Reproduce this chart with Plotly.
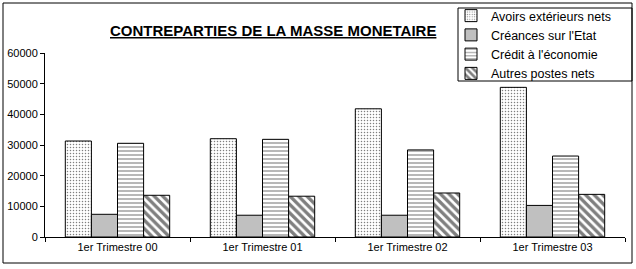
import plotly.graph_objects as go

categories = ["1er Trimestre 00", "1er Trimestre 01", "1er Trimestre 02", "1er Trimestre 03"]
avoirs = [31300, 32050, 41800, 48800]
creances = [7400, 7100, 7100, 10300]
credit = [30550, 31850, 28400, 26400]
autres = [13600, 13300, 14350, 13900]
y_ticks = [0, 10000, 20000, 30000, 40000, 50000, 60000]

L, R, T, B = 45, 11, 53, 32
W, H = 636, 269
pw, ph = W - L - R, H - T - B

def px_x(p):
    return (p - L) / pw

def px_y(p):
    return (H - B - p) / ph

fig = go.Figure()
series = [
    ("Avoirs extérieurs nets", avoirs, dict(shape=".", fgcolor="black", bgcolor="white", size=3, solidity=0.2)),
    ("Créances sur l'Etat", creances, None),
    ("Crédit à l'économie", credit, dict(shape="-", fgcolor="black", bgcolor="white", size=4, solidity=0.28)),
    ("Autres postes nets", autres, dict(shape="\\", fgcolor="black", bgcolor="white", size=6, solidity=0.55)),
]
for name, vals, pat in series:
    marker = dict(line=dict(color="black", width=1))
    if pat is None:
        marker["color"] = "#C0C0C0"
    else:
        marker["color"] = "white"
        marker["pattern"] = pat
    fig.add_trace(go.Bar(name=name, x=categories, y=vals, marker=marker))

fig.update_layout(
    width=W, height=H,
    margin=dict(l=L, r=R, t=T, b=B, autoexpand=False),
    paper_bgcolor="white", plot_bgcolor="white",
    barmode="group", bargap=0.28, bargroupgap=0,
    font=dict(family="Liberation Sans, Arial, sans-serif", size=11, color="black"),
    showlegend=True,
    legend=dict(
        x=px_x(451), y=px_y(1), xanchor="left", yanchor="top",
        borderwidth=0, bgcolor="rgba(0,0,0,0)",
        font=dict(size=12.5), tracegroupgap=0, itemwidth=30,
    ),
    xaxis=dict(
        showline=True, linecolor="black", linewidth=1,
        ticks="outside", ticklen=4, tickcolor="black", tickson="boundaries",
        showgrid=False, fixedrange=True,
    ),
    yaxis=dict(
        range=[0, 60000], tickvals=y_ticks, ticktext=[str(v) for v in y_ticks],
        showline=True, linecolor="black", linewidth=1,
        ticks="outside", ticklen=4, tickcolor="black",
        showgrid=False, zeroline=False, fixedrange=True,
    ),
    annotations=[dict(
        text="<u><b>CONTREPARTIES DE LA MASSE MONETAIRE</b></u>",
        x=px_x(273), y=px_y(31), xref="paper", yref="paper",
        xanchor="center", yanchor="middle", showarrow=False,
        font=dict(size=15, color="black"),
    )],
    shapes=[
        dict(type="rect", xref="paper", yref="paper",
             x0=px_x(3), x1=px_x(632), y0=px_y(263), y1=px_y(3),
             line=dict(color="black", width=1), layer="below"),
        dict(type="rect", xref="paper", yref="paper",
             x0=px_x(458), x1=px_x(632), y0=px_y(81), y1=px_y(8),
             line=dict(color="black", width=1), layer="above"),
    ],
)

fig.write_html("out.html")
